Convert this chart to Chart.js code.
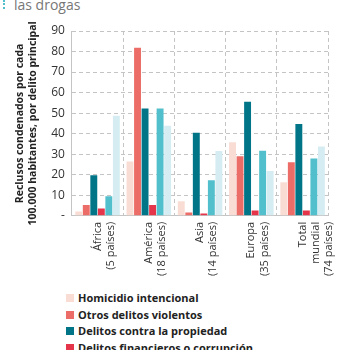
<!DOCTYPE html>
<html><head><meta charset="utf-8">
<script src="https://cdn.jsdelivr.net/npm/chart.js@4/dist/chart.umd.min.js"></script>
<style>
html,body{margin:0;padding:0;background:#fff;width:350px;height:350px;overflow:hidden;font-family:"Open Sans",sans-serif;}
#wrap{position:absolute;left:0;top:0;width:350px;height:282px;}
#title{position:absolute;left:14px;top:-5px;font-size:14px;color:#777;}
#mark{position:absolute;left:3px;top:0;height:9px;border-left:2px dotted #4fbfcc;}
#legend{position:absolute;left:66px;top:290px;font-size:11px;font-weight:bold;color:#222;}
#legend div{height:16.5px;line-height:16px;white-space:nowrap;}
#legend span{display:inline-block;width:8px;height:8px;margin-right:4px;}
</style></head>
<body>
<div id="mark"></div><div id="title">las drogas</div>
<div id="wrap"><canvas id="c" width="350" height="282"></canvas></div>
<div id="legend"></div>
<script>
const categories = [["África","(5 países)"],["América","(18 países)"],["Asia","(14 países)"],["Europa","(35 países)"],["Total","mundial","(74 países)"]];
const seriesNames = ["Homicidio intencional","Otros delitos violentos","Delitos contra la propiedad","Delitos financieros o corrupción","Tráfico de drogas","Posesión de drogas"];
const homicidio = [2.1, 26.4, 7.1, 35.8, 16.3];
const otrosViolentos = [5.3, 81.9, 1.6, 29.0, 26.1];
const propiedad = [19.8, 52.3, 40.4, 55.6, 44.7];
const financieros = [3.5, 5.3, 1.1, 2.6, 2.6];
const trafico = [9.5, 52.3, 17.3, 31.7, 27.9];
const posesion = [48.7, 43.8, 31.6, 21.8, 33.8];
const yTicks = [0,10,20,30,40,50,60,70,80,90];
const colors = ["#f9dcd4","#ec6d67","#007588","#e4354a","#52bfcc","#d5edf2"];
const legendShown = 4;

const seriesValues = [homicidio, otrosViolentos, propiedad, financieros, trafico, posesion];
const datasets = seriesValues.map((v,i)=>({label:seriesNames[i],data:v,backgroundColor:colors[i],borderWidth:0,categoryPercentage:0.88,barPercentage:0.92}));

const leg = document.getElementById('legend');
for(let i=0;i<legendShown;i++){
  const d=document.createElement('div');
  const s=document.createElement('span'); s.style.background=colors[i];
  d.appendChild(s); d.appendChild(document.createTextNode(seriesNames[i]));
  leg.appendChild(d);
}

const FONT = "'Open Sans', sans-serif";
const DASH = [4,3];
new Chart(document.getElementById('c'),{
  type:'bar',
  data:{labels:categories,datasets:datasets},
  options:{
    responsive:false,animation:false,
    layout:{padding:{top:31,right:18,left:14,bottom:0}},
    plugins:{legend:{display:false},tooltip:{enabled:false}},
    scales:{
      x:{
        grid:{color:'#c4c4c4',lineWidth:1,drawTicks:false,offset:true,borderDash:DASH,dash:DASH},
        border:{display:true,color:'#c4c4c4',dash:DASH},
        ticks:{color:'#333',font:{family:FONT,size:11},minRotation:90,maxRotation:90,padding:6,autoSkip:false}
      },
      y:{
        min:0,max:90,
        afterBuildTicks:(ax)=>{ax.ticks=yTicks.map(v=>({value:v}));},
        grid:{color:'#c4c4c4',lineWidth:1,drawTicks:false,borderDash:DASH,dash:DASH},
        border:{display:true,color:'#c4c4c4',dash:DASH},
        ticks:{color:'#333',font:{family:FONT,size:12},padding:7,callback:(v)=>v===0?'-':v},
        title:{display:true,text:["Reclusos condenados por cada","100.000 habitantes, por delito principal"],color:'#222',font:{family:FONT,size:10.5,weight:'bold'},padding:{top:0,bottom:5}}
      }
    }
  }
});
</script>
</body></html>
